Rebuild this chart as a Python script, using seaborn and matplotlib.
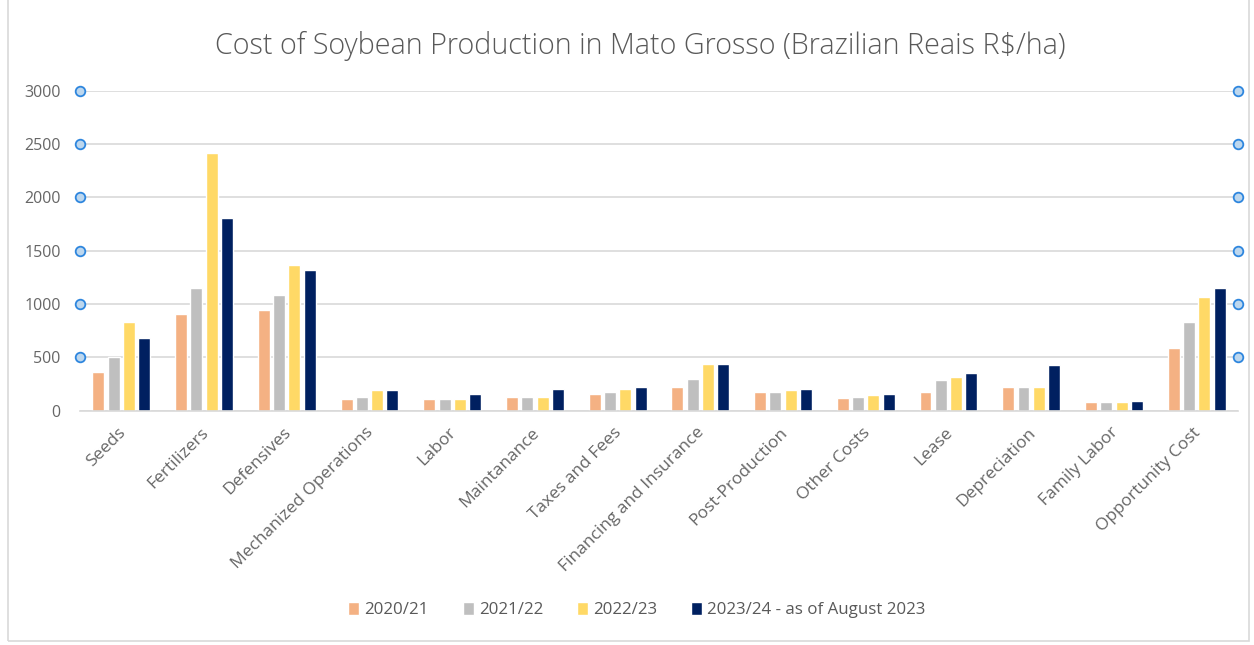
import matplotlib
matplotlib.use("Agg")
import matplotlib.pyplot as plt
import matplotlib.patches as mpatches
import matplotlib.transforms as mtransforms
import seaborn as sns
import pandas as pd

categories = ["Seeds", "Fertilizers", "Defensives", "Mechanized Operations", "Labor",
              "Maintanance", "Taxes and Fees", "Financing and Insurance", "Post-Production",
              "Other Costs", "Lease", "Depreciation", "Family Labor", "Opportunity Cost"]
series_names = ["2020/21", "2021/22", "2022/23", "2023/24 - as of August 2023"]
v2020 = [360, 910, 945, 110, 110, 125, 160, 220, 175, 115, 175, 220, 80, 585]
v2021 = [500, 1150, 1085, 125, 110, 125, 175, 300, 175, 130, 285, 220, 80, 830]
v2022 = [830, 2420, 1370, 190, 110, 125, 205, 440, 190, 145, 315, 220, 80, 1065]
v2023 = [680, 1810, 1320, 190, 160, 205, 220, 440, 205, 160, 350, 425, 95, 1150]
yticks = [0, 500, 1000, 1500, 2000, 2500, 3000]
colors = ["#F4B183", "#BFBFBF", "#FFD966", "#002060"]

rows = []
for name, vals in zip(series_names, [v2020, v2021, v2022, v2023]):
    for c, v in zip(categories, vals):
        rows.append({"Category": c, "Year": name, "Value": v})
df = pd.DataFrame(rows)

sns.set_theme(style="white")
plt.rcParams["font.family"] = ["Open Sans", "DejaVu Sans"]

fig = plt.figure(figsize=(12.54, 6.45), dpi=100)
ax = fig.add_axes([0.0638, 0.3633, 0.9234, 0.4961])

sns.barplot(data=df, x="Category", y="Value", hue="Year", order=categories,
            hue_order=series_names, palette=colors, width=0.74, gap=0.22,
            saturation=1, errorbar=None, ax=ax, legend=True)

ax.set_ylim(0, 3000)
ax.set_xlim(-0.5, len(categories) - 0.5)
ax.set_yticks(yticks)
ax.set_yticklabels([str(t) for t in yticks], fontsize=11.5, color="#666666")
ax.tick_params(axis="y", length=0, pad=14)
ax.tick_params(axis="x", length=0, pad=10)
ax.set_xticks(range(len(categories)))
ax.set_xticklabels(categories, rotation=45, ha="right", rotation_mode="anchor",
                   fontsize=12.5, color="#666666")
offset = mtransforms.ScaledTranslation(-4 / 100, 0, fig.dpi_scale_trans)
for lab in ax.get_xticklabels():
    lab.set_transform(lab.get_transform() + offset)
ax.set_xlabel("")
ax.set_ylabel("")
ax.yaxis.grid(True, color="#D9D9D9", linewidth=1.2)
ax.set_axisbelow(True)
for s in ["top", "right", "left"]:
    ax.spines[s].set_visible(False)
ax.spines["bottom"].set_color("#D9D9D9")
ax.spines["bottom"].set_linewidth(1.2)

# selection handles (blue circles) at gridlines
trans = mtransforms.blended_transform_factory(ax.transAxes, ax.transData)
hy = [t for t in yticks if t > 0]
for xa in (0.0, 1.0):
    ax.scatter([xa] * len(hy), hy, s=48, facecolor="#BDD7EE", edgecolor="#2E86DE",
               linewidth=1.3, transform=trans, clip_on=False, zorder=5)

fig.text(0.511, 0.928, "Cost of Soybean Production in Mato Grosso (Brazilian Reais R$/ha)",
         ha="center", va="center", fontsize=20.7, color="#595959", fontweight="light")

handles, labels = ax.get_legend_handles_labels()
ax.legend_.remove()
fig.legend(handles, labels, loc="center", bbox_to_anchor=(0.508, 0.054), ncol=4,
           frameon=False, fontsize=12.2, handlelength=0.65, handleheight=0.75,
           handletextpad=0.3, columnspacing=2.0, labelcolor="#595959")

fig.patches.append(mpatches.Rectangle((0.006, 0.006), 0.99, 1.2, transform=fig.transFigure,
                                      fill=False, edgecolor="#D9D9D9", linewidth=1.2))

fig.savefig("out.png", dpi=100, facecolor="white")
